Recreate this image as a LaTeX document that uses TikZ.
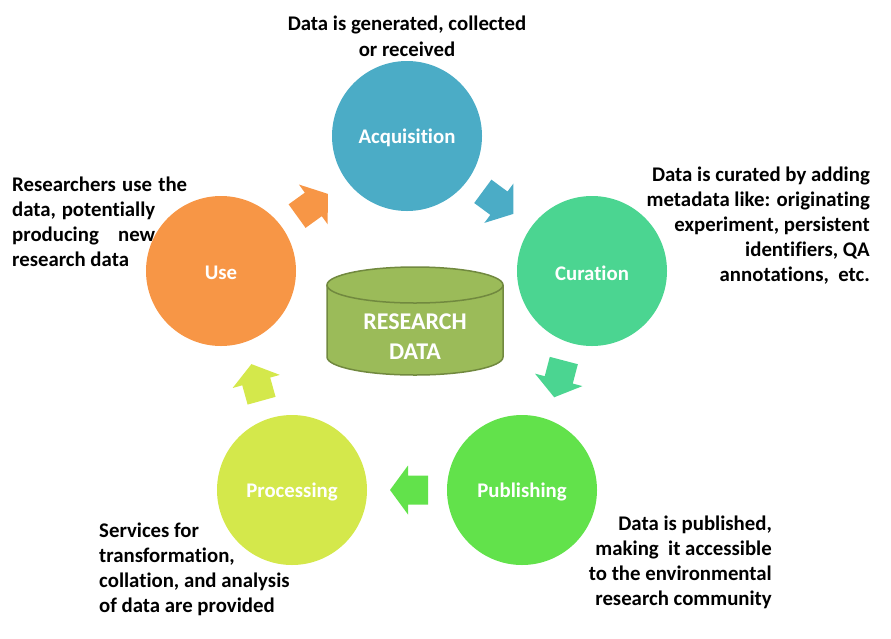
\documentclass[tikz,border=0pt]{standalone}
\usepackage{fontspec}
\setmainfont{Carlito}[Ligatures=NoCommon]
\definecolor{acqc}{HTML}{4BACC6}
\definecolor{curc}{HTML}{4BD591}
\definecolor{pubc}{HTML}{62E24B}
\definecolor{proc}{HTML}{D4E84B}
\definecolor{usec}{HTML}{F79646}
\definecolor{cylfill}{HTML}{9BBB59}
\definecolor{cylline}{HTML}{71893F}
\newcommand\lblfont{\fontsize{20.8}{25}\selectfont\bfseries}
\newcommand\cylfont{\fontsize{24}{30}\selectfont\bfseries}
\tikzset{
  stage/.style={circle, minimum size=150pt, inner sep=0pt, font=\lblfont, text=white},
  stagetext/.style={inner sep=0pt, font=\lblfont, text=white},
  note/.style={inner sep=0pt, font=\lblfont, text=black},
  barrow/.pic={\fill[pic actions] (-19,-14.5) -- (1,-14.5) -- (1,-24.5) -- (19,0) -- (1,24.5) -- (1,14.5) -- (-19,14.5) -- cycle;}
}
\usetikzlibrary{calc}
\begin{document}
\begin{tikzpicture}[x=1pt,y=-1pt]
\useasboundingbox (0,0) rectangle (891,638);
% stages
\node[stage, fill=acqc] (acq) at (407,136) {};
\node[stage, fill=curc] (cur) at (592,271) {};
\node[stage, fill=pubc] (pub) at (522,490) {};
\node[stage, fill=proc] (pro) at (292,490) {};
\node[stage, fill=usec] (use) at (221,271) {};
\node[stagetext] (tacq) at ($(acq)+(0,2)$) {Acquisition};
\node[stagetext] (tcur) at ($(cur)+(0,2)$) {Curation};
\node[stagetext] (tpub) at ($(pub)+(0,2)$) {Publishing};
\node[stagetext] (tpro) at ($(pro)+(0,2)$) {Processing};
\node[stagetext] (tuse) at ($(use)+(0,2)$) {Use};
% block arrows between stages
\pic[fill=usec, rotate=35.8] at ($(use)!0.5!(acq)+(-1.5,1.5)$) {barrow};
\pic[fill=acqc, rotate=-36.4] at ($(acq)!0.5!(cur)+(-1.4,-0.9)$) {barrow};
\pic[fill=curc, rotate=-104.7] at ($(cur)!0.5!(pub)+(2,-1.6)$) {barrow};
\pic[fill=pubc, rotate=180] at ($(pub)!0.5!(pro)+(2,0)$) {barrow};
\pic[fill=proc, rotate=105.5] at ($(pro)!0.5!(use)+(0,1.9)$) {barrow};
% research data cylinder
\fill[cylfill] (327,285) -- (327,357) arc[start angle=180, end angle=0, x radius=88, y radius=18] -- (503,285) -- cycle;
\draw[cylline, line width=1.5pt] (327,285) -- (327,357) arc[start angle=180, end angle=0, x radius=88, y radius=18] -- (503,285);
\draw[cylline, line width=1.5pt, fill=cylfill] (415,285) ellipse [x radius=88, y radius=18];
\node[inner sep=0pt, font=\cylfont, text=white, align=center] (rd) at (415,337) {RESEARCH\\DATA};
% notes
\node[note, align=center] (nacq) at (407,36) {Data is generated, collected\\[1pt]or received};
\node[note, align=right, anchor=east] (ncur) at (870,226) {Data is curated by adding\\metadata like: originating\\experiment, persistent\\identifiers, QA\\annotations,\ \ etc.};
\node[note, align=right, anchor=east] (npub) at (772,562) {Data is published,\\making\ \ it accessible\\to the environmental\\research community};
\node[note, align=left, anchor=west] (npro) at (99,569) {Services for\\transformation,\\collation, and analysis\\of data are provided};
\node[note, align=left, anchor=west] (nuse) at (12,222) {\hbox to 175pt{Researchers\hfil use\hfil the}\\\hbox to 143pt{data,\hfil potentially}\\\hbox to 143pt{producing\hfil new}\\research data};
\end{tikzpicture}
\end{document}
